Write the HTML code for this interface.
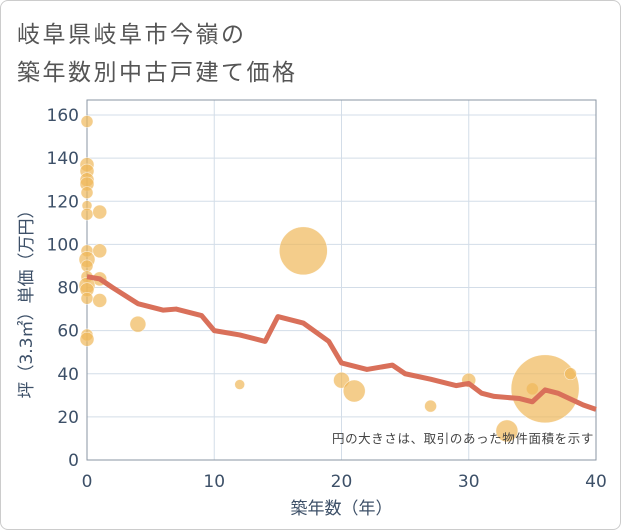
<!DOCTYPE html>
<html><head><meta charset="utf-8"><style>
body{margin:0;background:#fff;font-family:"DejaVu Sans","Noto Sans CJK JP",sans-serif;}
#card{position:absolute;left:0;top:0;width:619px;height:528px;border:1px solid #ccc;border-radius:8px;background:#fff;}
#title{position:absolute;left:17px;top:13px;font-size:23px;line-height:38px;letter-spacing:2.5px;color:#555;font-family:"Noto Sans CJK JP",sans-serif;}
</style></head><body>
<div id="card"></div>
<div id="title">岐阜県岐阜市今嶺の<br>築年数別中古戸建て価格</div>
<svg id="chart" width="621" height="530" style="position:absolute;left:0;top:0"></svg>
<script>
const xTicks=[0,10,20,30,40];
const yTicks=[0,20,40,60,80,100,120,140,160];
const lineX=[0,1,2,4,6,7,9,10,12,14,15,17,19,20,22,24,25,27,29,30,31,32,34,35,36,37,39,40];
const lineY=[85,84,80,72.5,69.5,70,67,60,58,55,66.5,63.5,55,45,42,44,40,37.5,34.5,35.5,31,29.5,28.5,27,32.5,31,25.5,23.5];
const bubX=[0,0,0,0,0,0,0,0,1,0,0,0,1,0,1,0,0,0,1,0,0,4,12,17,20,21,27,30,33,35,36,38];
const bubY=[157,137,134,130,128,124,118,114,115,97,93,90,97,85,84,81,79,75,74,58,56,63,35,97,37,32,25,37,13.5,33,33,40];
const bubR=[6,7,7,7,7,6,5,6,7,6,8,6,7,6,7,8,7,6,7,6,7,8,5,24,8,11,6,7,11,6,34,6];
const L=87,R=596,T=100,B=460;
const sx=v=>L+(R-L)*v/40, sy=v=>B-(460-115)*v/160;
const svg=document.getElementById('chart');const NS='http://www.w3.org/2000/svg';
function mk(t,a){const e=document.createElementNS(NS,t);for(const k in a)e.setAttribute(k,a[k]);svg.appendChild(e);return e;}
yTicks.forEach(v=>{const g=mk('line',{x1:L,x2:R,y1:sy(v),y2:sy(v),stroke:'#d3dde8','stroke-width':1});


const t=mk('text',{x:L-8,y:sy(v)+6,'text-anchor':'end','font-size':17,fill:'#3d5068'});t.textContent=v;

});
xTicks.forEach(v=>{const g=mk('line',{x1:sx(v),x2:sx(v),y1:T,y2:B,stroke:'#d3dde8','stroke-width':1});


const t=mk('text',{x:sx(v),y:B+27,'text-anchor':'middle','font-size':17,fill:'#3d5068'});t.textContent=v;

});
const fr=mk('rect',{x:L,y:T,width:R-L,height:B-T,fill:'none',stroke:'#8a96a3','stroke-width':1});


bubX.forEach((v,i)=>{const c=mk('circle',{cx:sx(v),cy:sy(bubY[i]),r:bubR[i],fill:'#f0b85a','fill-opacity':0.7,stroke:'#fff','stroke-width':0.6,'stroke-opacity':0.7});

});
const p=mk('polyline',{points:lineX.map((v,i)=>sx(v)+','+sy(lineY[i])).join(' '),fill:'none',stroke:'#d9705a','stroke-width':5,'stroke-linejoin':'round'});


const n=mk('text',{x:594,y:443,'text-anchor':'end','font-size':12.5,'letter-spacing':0.6,fill:'#444'});n.textContent='円の大きさは、取引のあった物件面積を示す';


const xt=mk('text',{x:(L+R)/2,y:514,'text-anchor':'middle','font-size':17,fill:'#3d5068'});xt.textContent='築年数（年）';


const yt=mk('text',{x:0,y:0,'text-anchor':'middle','font-size':17,fill:'#3d5068',transform:'translate(32,'+((T+B)/2+20)+') rotate(-90)'});yt.textContent='坪（3.3㎡）単価（万円）';


</script>
</body></html>
